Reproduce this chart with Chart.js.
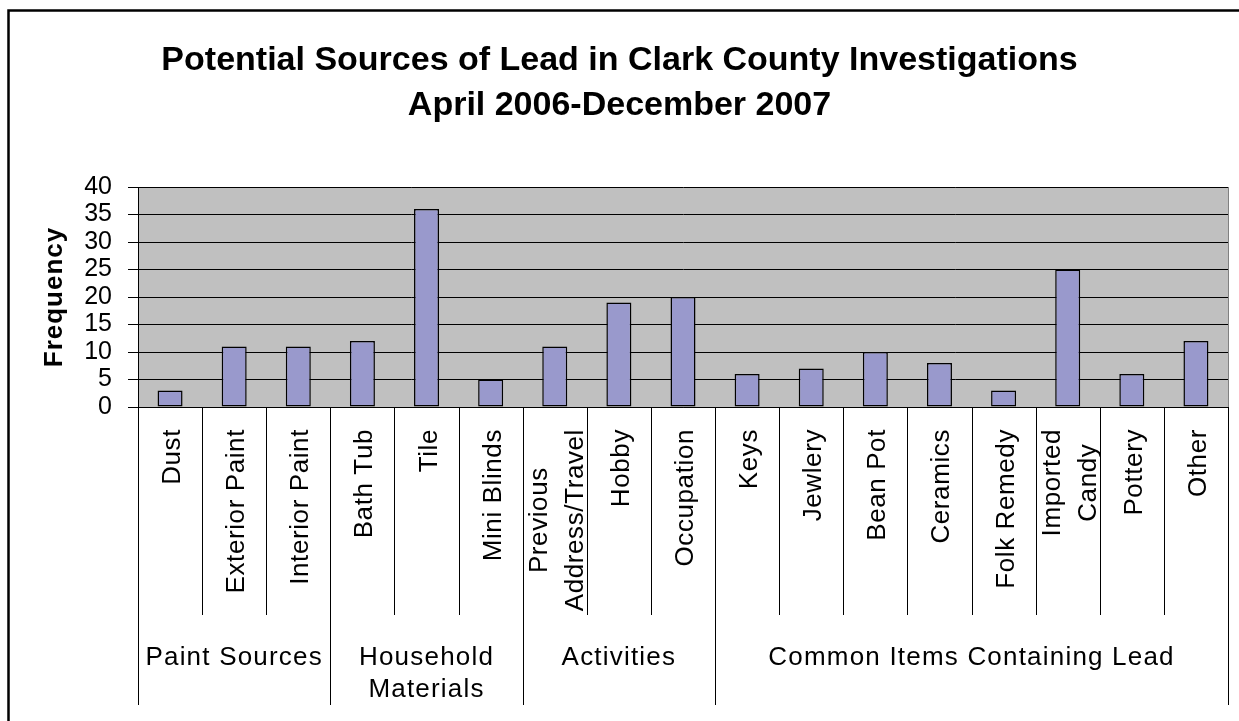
<!DOCTYPE html>
<html>
<head>
<meta charset="utf-8">
<script src="https://cdn.jsdelivr.net/npm/chart.js@4.4.1/dist/chart.umd.min.js"></script>
<style>
  body { margin: 0; background: #fff; }
  canvas { display: block; }
</style>
</head>
<body>
<canvas id="leadChart" width="1239" height="721"></canvas>
<script>
// Datos del grafico
var titleLines = ['Potential Sources of Lead in Clark County Investigations', 'April 2006-December 2007'];
var yTitle = 'Frequency';
var categories = [
  ['Dust'], ['Exterior Paint'], ['Interior Paint'],
  ['Bath Tub'], ['Tile'], ['Mini Blinds'],
  ['Previous', 'Address/Travel'], ['Hobby'], ['Occupation'],
  ['Keys'], ['Jewlery'], ['Bean Pot'], ['Ceramics'], ['Folk Remedy'],
  ['Imported', 'Candy'], ['Pottery'], ['Other']
];
var frequency = [3, 11, 11, 12, 36, 5, 11, 19, 20, 6, 7, 10, 8, 3, 25, 6, 12];
var groupNames = [['Paint Sources'], ['Household', 'Materials'], ['Activities'], ['Common Items Containing Lead']];
var groupSizes = [3, 3, 3, 8];
var yTicks = [0, 5, 10, 15, 20, 25, 30, 35, 40];

var FONT = '"Liberation Sans", Arial, sans-serif';

// Plugin para fondo, titulos y etiquetas agrupadas del eje x
var decorations = {
  id: 'decorations',
  beforeDraw: function (chart) {
    var ctx = chart.ctx, a = chart.chartArea;
    ctx.save();
    ctx.fillStyle = '#ffffff';
    ctx.fillRect(0, 0, chart.width, chart.height);
    ctx.fillStyle = '#c0c0c0';
    ctx.fillRect(a.left, a.top, a.right - a.left, a.bottom - a.top);
    ctx.restore();
  },
  afterDraw: function (chart) {
    var ctx = chart.ctx, a = chart.chartArea;
    var x = chart.scales.x;
    ctx.save();

    // titulo
    ctx.fillStyle = '#000';
    ctx.textAlign = 'center';
    ctx.textBaseline = 'alphabetic';
    ctx.font = 'bold 34px ' + FONT;
    ctx.fillText(titleLines[0], chart.width / 2, 70);
    ctx.fillText(titleLines[1], chart.width / 2, 115);

    // titulo eje y
    ctx.save();
    ctx.translate(62, (a.top + a.bottom) / 2);
    ctx.rotate(-Math.PI / 2);
    ctx.font = 'bold 26px ' + FONT;
    ctx.letterSpacing = '1px';
    ctx.fillText(yTitle, 0, 0);
    ctx.restore();

    // borde derecho del area de trazado
    ctx.strokeStyle = '#808080';
    ctx.lineWidth = 1;
    ctx.beginPath();
    ctx.moveTo(a.right + 0.5, a.top);
    ctx.lineTo(a.right + 0.5, a.bottom);
    ctx.stroke();

    // separadores de categoria y de grupo
    var half = (x.getPixelForValue(1) - x.getPixelForValue(0)) / 2;
    var bounds = [0];
    var acc = 0;
    groupSizes.forEach(function (n) { acc += n; bounds.push(acc); });
    ctx.strokeStyle = '#000';
    for (var i = 0; i <= categories.length; i++) {
      var px = Math.round(x.getPixelForValue(i) - half) + 0.5;
      var isGroup = bounds.indexOf(i) >= 0;
      ctx.beginPath();
      ctx.moveTo(px, a.bottom);
      ctx.lineTo(px, isGroup ? 705 : 615);
      ctx.stroke();
    }

    // etiquetas de categoria (verticales)
    ctx.font = '26px ' + FONT;
    ctx.letterSpacing = '0.6px';
    ctx.textAlign = 'center';
    ctx.textBaseline = 'alphabetic';
    categories.forEach(function (lines, i) {
      var cx = x.getPixelForValue(i);
      var maxW = 0;
      lines.forEach(function (l) { maxW = Math.max(maxW, ctx.measureText(l).width); });
      ctx.save();
      ctx.translate(cx, 429 + maxW / 2);
      ctx.rotate(-Math.PI / 2);
      lines.forEach(function (l, j) {
        var off = 10 + (j - (lines.length - 1) / 2) * 36;
        ctx.fillText(l, 0, off);
      });
      ctx.restore();
    });

    // etiquetas de grupo
    ctx.font = '26px ' + FONT;
    ctx.letterSpacing = '1.2px';
    groupNames.forEach(function (lines, g) {
      var x0 = x.getPixelForValue(bounds[g]) - half;
      var x1 = x.getPixelForValue(bounds[g + 1]) - half;
      lines.forEach(function (l, j) {
        ctx.fillText(l, (x0 + x1) / 2, 665 + j * 32);
      });
    });
    ctx.letterSpacing = '0px';

    // marco exterior
    ctx.strokeStyle = '#000';
    ctx.lineWidth = 2.5;
    ctx.strokeRect(8.5, 10.5, chart.width + 20, chart.height + 20);
    ctx.restore();
  }
};

var ctxL = document.getElementById('leadChart').getContext('2d');
var chart = new Chart(ctxL, {
  type: 'bar',
  data: {
    labels: categories,
    datasets: [{
      label: yTitle,
      data: frequency,
      backgroundColor: '#9999cc',
      borderColor: '#000000',
      borderWidth: 1.5,
      borderSkipped: false,
      barPercentage: 0.39,
      categoryPercentage: 1.0
    }]
  },
  plugins: [decorations],
  options: {
    responsive: false,
    animation: false,
    devicePixelRatio: 1,
    layout: { padding: { top: 187, right: 11, bottom: 314, left: 0 } },
    plugins: {
      legend: { display: false },
      title: { display: false },
      tooltip: { enabled: false }
    },
    scales: {
      x: {
        ticks: { display: false },
        grid: { display: false, drawTicks: false },
        border: { color: '#000', width: 1 },
        afterFit: function (s) { s.height = 0; }
      },
      y: {
        min: yTicks[0],
        max: yTicks[yTicks.length - 1],
        afterBuildTicks: function (s) { s.ticks = yTicks.map(function (v) { return { value: v }; }); },
        ticks: {
          color: '#000',
          padding: 16,
          autoSkip: false,
          font: { family: FONT, size: 25 }
        },
        grid: { color: '#000', lineWidth: 1, tickLength: 10 },
        border: { color: '#000', width: 1 },
        afterFit: function (s) { s.width = 138; }
      }
    }
  }
});
</script>
</body>
</html>
